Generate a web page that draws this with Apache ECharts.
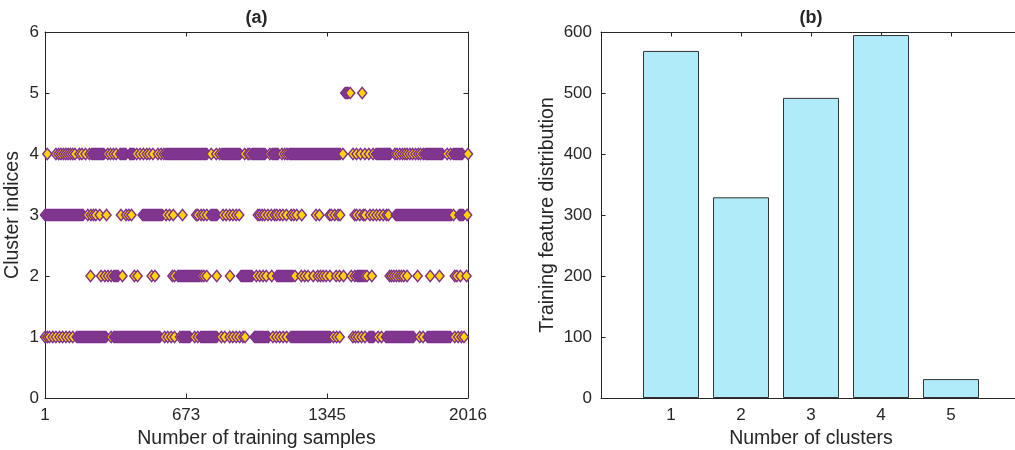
<!DOCTYPE html>
<html>
<head>
<meta charset="utf-8">
<script src="https://cdn.jsdelivr.net/npm/echarts@6/dist/echarts.min.js"></script>
<style>
  html, body { margin: 0; background: #fff; }
  #chart { width: 1015px; height: 450px; }
</style>
</head>
<body>
<div id="chart"></div>
<script>
// (a) cluster index of each training sample.
// runs = stretches where the markers overlap into a solid band [first, last sample]
// marks = single visible diamonds (sample number)
const sampleTicks = [1, 673, 1345, 2016];

const runs1 = [[152, 291], [329, 548], [653, 691], [743, 819], [999, 1065], [1172, 1360], [1545, 1566], [1625, 1756], [1823, 1932]];
const marks1 = [1, 12, 22, 38, 53, 70, 85, 101, 117, 133, 316, 571, 586, 602, 618, 644, 714, 729, 841, 857, 881, 896, 912, 928, 944, 954,
  1087, 1103, 1119, 1135, 1152, 1375, 1390, 1405, 1468, 1480, 1493, 1509, 1525, 1588, 1604, 1786, 1802, 1953, 1969, 1985, 1997];

const runs2 = [[329, 349], [634, 739], [935, 987], [1106, 1182], [1488, 1517]];
const marks2 = [218, 268, 286, 301, 316, 370, 427, 442, 509, 525, 608, 618, 748, 758, 771, 819, 882, 1008, 1024, 1040, 1055, 1081,
  1192, 1222, 1238, 1254, 1279, 1300, 1313, 1326, 1340, 1358, 1388, 1404, 1423, 1460, 1477, 1525, 1535, 1558,
  1643, 1652, 1663, 1675, 1688, 1699, 1710, 1726, 1776, 1836, 1880, 1953, 1963, 1980, 2009];

const runs3 = [[1, 182], [466, 560], [791, 820], [1672, 1936], [1975, 1993]];
const marks3 = [205, 220, 232, 243, 262, 294, 363, 387, 400, 413, 578, 594, 612, 656, 721, 729, 745, 757, 772, 849, 864, 881, 896, 912, 926,
  1015, 1024, 1036, 1047, 1063, 1079, 1095, 1105, 1120, 1134, 1151, 1174, 1186, 1200, 1224, 1292, 1308, 1357, 1365, 1381, 1397, 1407,
  1476, 1485, 1501, 1517, 1526, 1549, 1564, 1580, 1596, 1612, 1628, 1637, 1947, 2012];

const runs4 = [[224, 281], [367, 386], [410, 425], [577, 772], [844, 930], [987, 1049], [1083, 1111], [1164, 1407], [1578, 1645], [1812, 1894], [1946, 1989]];
const marks4 = [12, 53, 66, 77, 89, 100, 111, 122, 133, 144, 165, 177, 194, 213, 300, 313, 327, 340, 359, 406, 438, 454, 470, 486, 499, 515,
  539, 554, 567, 793, 817, 833, 952, 968, 976, 1072, 1130, 1143, 1154, 1420, 1468, 1485, 1504, 1525, 1544, 1564,
  1668, 1678, 1691, 1704, 1715, 1726, 1739, 1752, 1766, 1779, 1790, 1803, 1917, 1933, 2016];

const runs5 = [[1431, 1445]];
const marks5 = [1455, 1512];

// (b) number of samples per cluster
const clusterLabels = [1, 2, 3, 4, 5];
const clusterCounts = [569, 329, 492, 595, 31];

const ink = "#262626";
const font = "'Liberation Sans', Arial, Helvetica, sans-serif";
const gold = "#FFD400";
const edge = "#7E2F8E";
const band = "#80368F";

function bandItems(y, runs, marks) {
  const items = runs.map((r) => [r[0], r[1], y, 0]).concat(marks.map((m) => [m, m, y, 1]));
  items.sort((a, b) => a[0] - b[0]);
  return items;
}

const HW = 4.6, HH = 5.6;
function renderBand(params, api) {
  const p0 = api.coord([api.value(0), api.value(2)]);
  const p1 = api.coord([api.value(1), api.value(2)]);
  const solid = api.value(3) === 0;
  const y = p0[1];
  const pts = solid
    ? [[p0[0] - HW, y], [p0[0], y - HH], [p1[0], y - HH], [p1[0] + HW, y], [p1[0], y + HH], [p0[0], y + HH]]
    : [[p0[0] - HW, y], [p0[0], y - HH], [p0[0] + HW, y], [p0[0], y + HH]];
  return {
    type: "polygon",
    z2: params.dataIndex,
    shape: { points: pts },
    style: { fill: solid ? band : gold, stroke: edge, lineWidth: 1.4 }
  };
}

const lineStyle = { color: ink, width: 1 };
const labelStyle = { color: ink, fontSize: 17, fontFamily: font, formatter: (v) => String(v) };
const nameStyle = { color: ink, fontSize: 19.5, fontFamily: font };

const bands = [
  bandItems(1, runs1, marks1),
  bandItems(2, runs2, marks2),
  bandItems(3, runs3, marks3),
  bandItems(4, runs4, marks4),
  bandItems(5, runs5, marks5)
];

const chart = echarts.init(document.getElementById("chart"));
chart.setOption({
  animation: false,
  graphic: [
    { type: "text", x: 256.5, y: 18, style: { text: "(a)", fill: ink, font: "bold 18px " + font, align: "center", verticalAlign: "middle" } },
    { type: "text", x: 811, y: 18, style: { text: "(b)", fill: ink, font: "bold 18px " + font, align: "center", verticalAlign: "middle" } }
  ],
  grid: [
    { left: 45, top: 32, width: 423, height: 366, outerBoundsMode: "none", containLabel: false },
    { left: 601, top: 32, width: 420, height: 366, outerBoundsMode: "none", containLabel: false }
  ],
  xAxis: [
    {
      gridIndex: 0, type: "value", min: 1, max: 2016, position: "bottom",
      axisLine: { onZero: false, lineStyle },
      axisTick: { inside: true, length: 4.5, customValues: sampleTicks, lineStyle },
      axisLabel: { customValues: sampleTicks, margin: 9, ...labelStyle },
      splitLine: { show: false },
      name: "Number of training samples", nameLocation: "middle", nameGap: 31, nameTextStyle: nameStyle
    },
    {
      gridIndex: 0, type: "value", min: 1, max: 2016, position: "top",
      axisLine: { onZero: false, lineStyle },
      axisTick: { inside: true, length: 4.5, customValues: sampleTicks, lineStyle },
      axisLabel: { show: false },
      splitLine: { show: false }
    },
    {
      gridIndex: 1, type: "value", min: 0, max: 6, position: "bottom",
      axisLine: { onZero: false, lineStyle },
      axisTick: { inside: true, length: 4.5, customValues: clusterLabels, lineStyle },
      axisLabel: { customValues: clusterLabels, margin: 9, ...labelStyle },
      splitLine: { show: false },
      name: "Number of clusters", nameLocation: "middle", nameGap: 31, nameTextStyle: nameStyle
    },
    {
      gridIndex: 1, type: "value", min: 0, max: 6, position: "top",
      axisLine: { onZero: false, lineStyle },
      axisTick: { inside: true, length: 4.5, customValues: clusterLabels, lineStyle },
      axisLabel: { show: false },
      splitLine: { show: false }
    }
  ],
  yAxis: [
    {
      gridIndex: 0, type: "value", min: 0, max: 6, interval: 1, position: "left",
      axisLine: { show: true, onZero: false, lineStyle },
      axisTick: { show: true, inside: true, length: 4.5, lineStyle },
      axisLabel: { margin: 6, ...labelStyle },
      splitLine: { show: false },
      name: "Cluster indices", nameLocation: "middle", nameGap: 22, nameTextStyle: nameStyle
    },
    {
      gridIndex: 0, type: "value", min: 0, max: 6, interval: 1, position: "right",
      axisLine: { show: true, onZero: false, lineStyle },
      axisTick: { show: true, inside: true, length: 4.5, lineStyle },
      axisLabel: { show: false },
      splitLine: { show: false }
    },
    {
      gridIndex: 1, type: "value", min: 0, max: 600, interval: 100, position: "left",
      axisLine: { show: true, onZero: false, lineStyle },
      axisTick: { show: true, inside: true, length: 4.5, lineStyle },
      axisLabel: { margin: 9, ...labelStyle },
      splitLine: { show: false },
      name: "Training feature distribution", nameLocation: "middle", nameGap: 43, nameTextStyle: nameStyle
    }
  ],
  series: bands.map((items) => ({
    type: "custom",
    xAxisIndex: 0,
    yAxisIndex: 0,
    silent: true,
    clip: false,
    encode: { x: [0, 1], y: 2 },
    data: items,
    renderItem: renderBand
  })).concat([{
    type: "bar",
    xAxisIndex: 2,
    yAxisIndex: 2,
    barWidth: 56,
    silent: true,
    itemStyle: { color: "#B0EBFA", borderColor: "#333333", borderWidth: 1 },
    data: clusterLabels.map((c, i) => [c, clusterCounts[i]])
  }])
});
</script>
</body>
</html>
